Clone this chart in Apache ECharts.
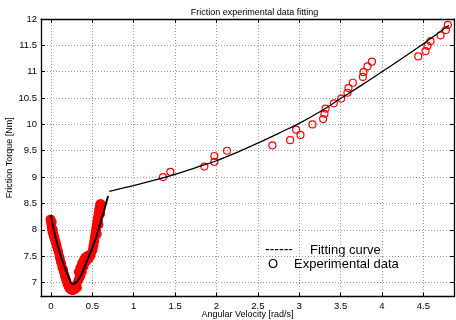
<!DOCTYPE html>
<html>
<head>
<meta charset="utf-8">
<script src="https://cdn.jsdelivr.net/npm/echarts@6/dist/echarts.min.js"></script>
<style>html,body{margin:0;padding:0;background:#fff}#c{width:456px;height:320px}</style>
</head>
<body>
<div id="c"></div>
<script>
// ---- data ----
const titleText = 'Friction experimental data fitting';
const xName = 'Angular Velocity [rad/s]';
const yName = 'Friction Torque [Nm]';
const xTicks = [0, 0.5, 1, 1.5, 2, 2.5, 3, 3.5, 4, 4.5];
const yTicks = [7, 7.5, 8, 8.5, 9, 9.5, 10, 10.5, 11, 11.5, 12];

// low-speed experimental data (dense cloud)
const lowX = [-0.01,-0.005,0.0,0.005,0.01,0.015,0.025,0.035,0.045,0.055,0.065,0.075,0.085,0.095,0.1,0.108,0.115,0.125,0.135,0.145,0.155,0.165,0.175,0.185,0.195,0.205,0.215,0.225,0.24,0.255,0.27,0.285,0.3,
  0.0,0.01,0.02,0.03,0.05,0.07,0.09,0.11,0.13,0.15,0.17,0.19,0.21,0.23,0.25,0.28,0.3,
  0.015,0.03,0.045,0.06,0.075,0.09,0.105,0.12,0.135,0.15,0.165,0.18,0.195,0.21,0.225,0.24,0.26,0.29,0.32,
  0.31,0.32,0.33,0.34,0.35,0.36,0.37,0.38,0.39,0.40,0.42,0.44,0.46,0.48,
  0.33,0.35,0.37,0.39,0.41,0.43,0.45,0.47,0.42,0.40,0.38,0.36,0.34,0.44,0.46,
  0.49,0.5,0.505,0.51,0.515,0.52,0.525,0.53,0.535,0.54,0.545,0.55,0.555,0.56,0.565,0.57,0.575,0.58,0.585,0.59,0.6,
  0.51,0.52,0.53,0.54,0.55,0.56,0.57,0.58,0.59,0.6,0.61,0.6,0.58,0.56];
const lowY = [8.2,8.15,8.1,8.05,8.0,7.95,7.9,7.85,7.8,7.75,7.7,7.65,7.6,7.55,7.5,7.45,7.4,7.35,7.3,7.25,7.2,7.15,7.1,7.05,7.0,6.95,6.91,6.88,6.86,6.85,6.85,6.87,6.9,
  8.2,8.12,8.02,7.95,7.83,7.72,7.6,7.47,7.36,7.25,7.12,7.02,6.94,6.9,6.88,6.92,6.96,
  8.15,8.0,7.88,7.78,7.68,7.58,7.48,7.38,7.28,7.2,7.12,7.04,6.97,6.92,6.88,6.86,6.85,6.86,6.9,
  6.95,7.0,7.05,7.1,7.15,7.2,7.25,7.3,7.35,7.4,7.43,7.46,7.48,7.5,
  7.2,7.28,7.36,7.42,7.48,7.5,7.52,7.52,7.38,7.3,7.2,7.12,7.05,7.42,7.45,
  7.55,7.6,7.65,7.7,7.75,7.8,7.85,7.9,7.95,8.0,8.05,8.1,8.15,8.2,8.25,8.3,8.35,8.4,8.45,8.48,8.5,
  7.62,7.7,7.78,7.88,7.98,8.08,8.18,8.28,8.38,8.45,8.48,8.3,8.1,7.92];

// high-speed experimental data
const highX = [1.354,1.443,1.854,1.975,1.975,2.128,2.676,2.89,2.963,3.015,3.16,3.289,3.305,3.318,3.418,3.507,3.583,3.595,3.648,3.769,3.777,3.825,3.878,4.438,4.526,4.55,4.587,4.708,4.772,4.796];
const highY = [9.0,9.1,9.2,9.29,9.4,9.5,9.6,9.7,9.9,9.8,10.0,10.1,10.2,10.3,10.4,10.49,10.6,10.69,10.79,10.9,10.99,11.1,11.19,11.29,11.39,11.49,11.58,11.69,11.79,11.89];

// fitted curves
const fitLowX = [0,0.05,0.1,0.15,0.2,0.26,0.3,0.35,0.4,0.45,0.5,0.55,0.6,0.65,0.69];
const fitLowY = [8.28,7.89,7.6,7.36,7.16,6.97,7.0,7.09,7.27,7.46,7.65,7.88,8.14,8.41,8.64];
const fitHighX = [0.705,1.0,1.25,1.5,1.75,2.0,2.25,2.5,2.75,3.0,3.25,3.5,3.75,4.0,4.25,4.5,4.81];
const fitHighY = [8.73,8.84,8.94,9.05,9.18,9.31,9.47,9.645,9.83,10.02,10.24,10.49,10.74,11.0,11.26,11.53,11.88];

const legendLine = '------';
const legendLineText = 'Fitting curve';
const legendMark = 'O';
const legendMarkText = 'Experimental data';

// ---- build ----
const zip = (a, b) => a.map((v, i) => [v, b[i]]);
const FONT = 'Liberation Sans, Arial, sans-serif';
const chart = echarts.init(document.getElementById('c'), null, {renderer: 'canvas'});
const tickStyle = {show: true, inside: true, length: 4, lineStyle: {color: '#000', width: 1}};
const gridLine = {show: true, lineStyle: {color: '#999', width: 1, type: [1, 2]}};
chart.setOption({
  animation: false,
  backgroundColor: '#fff',
  title: {text: titleText, left: 249.5, top: 3, textAlign: 'center',
    textStyle: {fontFamily: FONT, fontSize: 9, fontWeight: 'normal', color: '#000'}},
  grid: {left: 41, right: 2, top: 19, bottom: 23.3, containLabel: false, outerBoundsMode: 'none'},
  xAxis: [{
    type: 'value', min: -0.12, max: 4.87, position: 'bottom',
    name: xName, nameLocation: 'middle', nameGap: 13, nameMoveOverlap: false,
    nameTextStyle: {fontFamily: FONT, fontSize: 9, color: '#000'},
    axisLine: {show: true, onZero: false, lineStyle: {color: '#000', width: 1.3}},
    axisTick: Object.assign({customValues: xTicks}, tickStyle),
    axisLabel: {customValues: xTicks, fontFamily: FONT, fontSize: 9.5, color: '#000', margin: 5},
    splitLine: gridLine
  }, {
    type: 'value', min: -0.12, max: 4.87, position: 'top',
    axisLine: {show: true, onZero: false, lineStyle: {color: '#000', width: 1.3}},
    axisTick: Object.assign({customValues: xTicks}, tickStyle),
    axisLabel: {show: false}, splitLine: {show: false}
  }],
  yAxis: [{
    type: 'value', min: 6.73, max: 12, position: 'left',
    name: yName, nameLocation: 'middle', nameGap: 27, nameRotate: 90, nameMoveOverlap: false,
    nameTextStyle: {fontFamily: FONT, fontSize: 9, color: '#000'},
    axisLine: {show: true, onZero: false, lineStyle: {color: '#000', width: 1.3}},
    axisTick: Object.assign({customValues: yTicks}, tickStyle),
    axisLabel: {customValues: yTicks, fontFamily: FONT, fontSize: 9.5, color: '#000', margin: 4},
    splitLine: gridLine
  }, {
    type: 'value', min: 6.73, max: 12, position: 'right',
    axisLine: {show: true, onZero: false, lineStyle: {color: '#000', width: 1.3}},
    axisTick: Object.assign({customValues: yTicks}, tickStyle),
    axisLabel: {show: false}, splitLine: {show: false}
  }],
  series: [
    {type: 'scatter', data: zip(lowX, lowY), symbol: 'circle', symbolSize: 9,
      itemStyle: {color: '#ff0000', opacity: 1}, silent: true, z: 2},
    {type: 'scatter', data: zip(highX, highY), symbol: 'circle', symbolSize: 7,
      itemStyle: {color: 'rgba(0,0,0,0)', borderColor: '#ff0000', borderWidth: 1.2, opacity: 1}, silent: true, z: 2},
    {type: 'line', data: zip(fitLowX, fitLowY), showSymbol: false, smooth: 0.4,
      lineStyle: {color: '#000', width: 2}, silent: true, z: 3},
    {type: 'line', data: zip(fitHighX, fitHighY), showSymbol: false, smooth: 0.4,
      lineStyle: {color: '#000', width: 1.3}, silent: true, z: 3}
  ],
  graphic: [
    {type: 'text', left: 265, top: 243, style: {text: legendLine, font: '14px ' + FONT, fill: '#000'}},
    {type: 'text', left: 310, top: 244, style: {text: legendLineText, font: '13px ' + FONT, fill: '#000'}},
    {type: 'text', left: 268, top: 258, style: {text: legendMark, font: '13px ' + FONT, fill: '#000'}},
    {type: 'text', left: 294, top: 258, style: {text: legendMarkText, font: '13px ' + FONT, fill: '#000'}}
  ]
});
</script>
</body>
</html>
